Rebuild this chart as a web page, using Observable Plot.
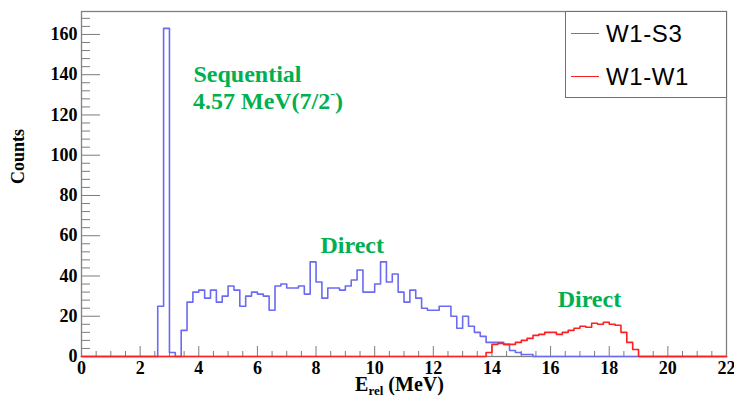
<!DOCTYPE html>
<html>
<head>
<meta charset="utf-8">
<script src="https://cdn.jsdelivr.net/npm/d3@7"></script>
<script src="https://cdn.jsdelivr.net/npm/@observablehq/plot@0.6"></script>
<style>
  body { margin: 0; background: #fff; }
  #wrap { position: relative; width: 734px; height: 398px; overflow: hidden; }
  #legend {
    position: absolute; left: 565px; top: 11px; width: 160px; height: 85px;
    border: 1px solid #707070; background: #fff;
    font-family: "Liberation Sans", Arial, Helvetica, sans-serif; font-size: 24px; letter-spacing: 0.6px; color: #000;
  }
  #legend .row { position: absolute; left: 0; height: 30px; width: 100%; }
  #legend .sw { position: absolute; left: 5px; top: 14px; width: 28px; height: 0; border-top: 2px solid; }
  #legend .lab { position: absolute; left: 40px; top: 0; line-height: 30px; }
</style>
</head>
<body>
<div id="wrap">
  <div id="chart"></div>
  <div id="legend"></div>
</div>
<script>
// ---- data ----
const seriesNames = ["W1-S3", "W1-W1"];
const seriesColors = ["#6a6af2", "#ff1f1f"];
const binWidth = 0.2;
const xRange = [0, 22];
const yMaxCount = 171.4;

// W1-S3 counts per 0.2 MeV bin, first bin starting at 2.6 MeV
const s3Start = 2.6;
const s3Counts = [25, 163, 2, 0, 13, 27, 32, 33, 29, 33, 27, 30, 35, 33, 25, 30, 32, 31, 30, 23,
  35, 36, 34, 34, 35, 31, 47, 37, 29, 34, 34, 33, 35, 38, 43, 32, 32, 36, 47, 37,
  41, 32, 27, 33, 29, 24, 23, 23, 25, 25, 20, 14, 20, 15, 12, 10, 7, 7, 7, 6,
  3, 2, 1, 1];

// W1-W1 counts per 0.2 MeV bin, first bin starting at 13.8 MeV
const w1Start = 13.8;
const w1Counts = [2, 6, 6.5, 6, 6, 7, 8, 9, 10.5, 11, 12, 12, 11, 12, 13, 14, 15, 14.5, 16.5, 16,
  17, 16, 15.5, 12, 7, 3.5];

const xTickLabels = [0, 2, 4, 6, 8, 10, 12, 14, 16, 18, 20, 22];
const yTickLabels = [0, 20, 40, 60, 80, 100, 120, 140, 160];

const annotations = [
  {x: 3.82, y: 136.6, text: "Sequential"},
  {x: 8.15, y: 51.2, text: "Direct"},
  {x: 16.24, y: 24.8, text: "Direct"}
];

// ---- build step data over full axis ----
function fullHist(start, counts) {
  const n = Math.round((xRange[1] - xRange[0]) / binWidth);
  const out = [];
  for (let i = 0; i < n; i++) {
    const e = +(xRange[0] + i * binWidth).toFixed(3);
    const k = Math.round((e - start) / binWidth);
    out.push({x: e, y: (k >= 0 && k < counts.length) ? counts[k] : 0});
  }
  out.push({x: xRange[1], y: out[out.length - 1].y});
  return out;
}
const s3Data = fullHist(s3Start, s3Counts);
const w1Data = fullHist(w1Start, w1Counts);

const xMinor = d3.range(0, 22.001, 0.5).filter(v => Math.abs(v % 2) > 1e-9);
const yMinor = d3.range(0, 171, 4).filter(v => v % 20 !== 0);

const W = 734, H = 398, mL = 81, mR = 8, mT = 11, mB = 42;
const fw = W - mL - mR, fh = H - mT - mB;
const serif = "'Liberation Serif', 'Times New Roman', Times, serif";
const green = "#00b050";
const axisGray = "#7c7c7c";

const plot = Plot.plot({
  width: W, height: H,
  marginLeft: mL, marginRight: mR, marginTop: mT, marginBottom: mB,
  x: {domain: xRange, axis: null},
  y: {domain: [0, yMaxCount], axis: null},
  style: {fontFamily: serif, background: "#fff", overflow: "visible"},
  marks: [
    Plot.tickY(yMinor, {y: d => d, stroke: axisGray, insetRight: fw - 9}),
    Plot.tickY(yTickLabels, {y: d => d, stroke: axisGray, insetRight: fw - 19}),
    Plot.tickX(xMinor, {x: d => d, stroke: axisGray, insetTop: fh - 5}),
    Plot.tickX(xTickLabels, {x: d => d, stroke: axisGray, insetTop: fh - 10}),
    Plot.frame({stroke: "#808080", strokeWidth: 1.3}),
    Plot.line(s3Data, {x: "x", y: "y", curve: "step-after", stroke: seriesColors[0], strokeWidth: 1.6}),
    Plot.line(w1Data, {x: "x", y: "y", curve: "step-after", stroke: seriesColors[1], strokeWidth: 1.6}),
    Plot.text(yTickLabels, {y: d => d, text: d => String(d), frameAnchor: "left", textAnchor: "end", dx: -4,
      fontSize: 18, fontWeight: "bold", fill: "#000"}),
    Plot.text(xTickLabels, {x: d => d, text: d => String(d), frameAnchor: "bottom", lineAnchor: "top", dy: 5,
      fontSize: 18, fontWeight: "bold", fill: "#000"}),
    Plot.text(["Counts"], {text: d => d, frameAnchor: "left", dx: -63, rotate: -90,
      fontSize: 18, fontWeight: "bold", fill: "#000"}),
    Plot.text(annotations, {x: "x", y: "y", text: "text", textAnchor: "start", lineAnchor: "bottom",
      fontSize: 24, fontWeight: "bold", fill: green})
  ]
});
document.getElementById("chart").appendChild(plot);

// second line of the sequential annotation with superscript, and axis title with subscript
const xs = plot.scale("x"), ys = plot.scale("y");
const svg = d3.select(plot);
const t2 = svg.append("text")
  .attr("x", xs.apply(3.82)).attr("y", ys.apply(122.7)).attr("text-anchor", "start")
  .attr("font-family", serif).attr("font-weight", "bold").attr("font-size", 24).attr("fill", green);
t2.append("tspan").text("4.57 MeV(7/2");
t2.append("tspan").attr("font-size", 14).attr("dy", -11).text("-");
t2.append("tspan").attr("dy", 11).text(")");

const xt = svg.append("text")
  .attr("x", mL + fw / 2 - 4).attr("y", 391).attr("text-anchor", "middle")
  .attr("font-family", serif).attr("font-weight", "bold").attr("font-size", 20).attr("fill", "#000");
xt.append("tspan").text("E");
xt.append("tspan").attr("font-size", 13).attr("dy", 4).text("rel");
xt.append("tspan").attr("dy", -4).text(" (MeV)");

// legend
const leg = document.getElementById("legend");
seriesNames.forEach((name, i) => {
  const row = document.createElement("div");
  row.className = "row";
  row.style.top = (i === 0 ? 7 : 50) + "px";
  const sw = document.createElement("div");
  sw.className = "sw"; sw.style.borderTopColor = seriesColors[i];
  sw.style.borderTopWidth = "1.5px";
  const lab = document.createElement("div");
  lab.className = "lab"; lab.textContent = name;
  row.appendChild(sw); row.appendChild(lab);
  leg.appendChild(row);
});
</script>
</body>
</html>
